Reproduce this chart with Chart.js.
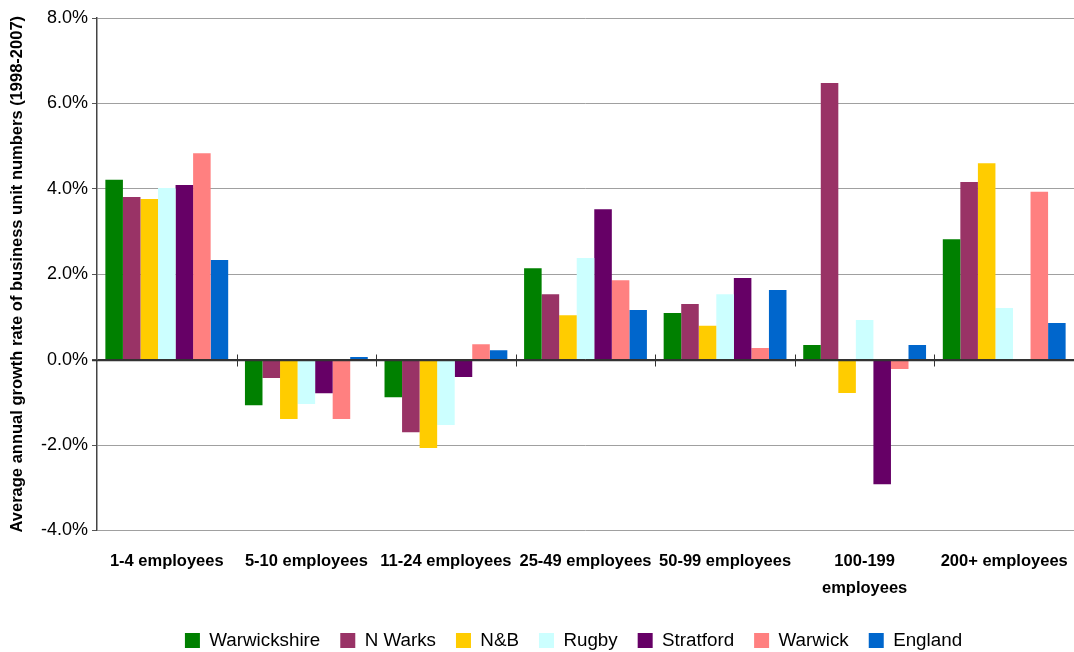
<!DOCTYPE html>
<html>
<head>
<meta charset="utf-8">
<script src="https://cdn.jsdelivr.net/npm/chart.js@4.4.1/dist/chart.umd.min.js"></script>
<style>
  html, body { margin: 0; padding: 0; background: #fff; }
  #wrap { width: 1074px; height: 652px; }
</style>
</head>
<body>
<div id="wrap"><canvas id="myChart"></canvas></div>
<script>
  // Tamaños de empresa (eje x)
  const categorias = ['1-4 employees', '5-10 employees', '11-24 employees', '25-49 employees',
    '50-99 employees', ['100-199', 'employees'], '200+ employees'];

  // Crecimiento anual medio (%) por zona
  const warwickshire = [4.21, -1.07, -0.88, 2.14, 1.09, 0.34, 2.82];
  const nWarks       = [3.81, -0.43, -1.70, 1.53, 1.30, 6.48, 4.16];
  const nyb          = [3.76, -1.39, -2.07, 1.04, 0.79, -0.78, 4.60];
  const rugby        = [4.02, -1.04, -1.53, 2.38, 1.53, 0.93, 1.21];
  const stratford    = [4.09, -0.79, -0.41, 3.52, 1.91, -2.92, null];
  const warwick      = [4.83, -1.39, 0.36, 1.86, 0.27, -0.22, 3.93];
  const england      = [2.33, 0.06, 0.22, 1.16, 1.63, 0.34, 0.86];

  const yTicks = [-4, -2, 0, 2, 4, 6, 8];

  const series = [
    { label: 'Warwickshire', data: warwickshire, color: '#008000' },
    { label: 'N Warks', data: nWarks, color: '#993366' },
    { label: 'N&B', data: nyb, color: '#FFCC00' },
    { label: 'Rugby', data: rugby, color: '#CCFFFF' },
    { label: 'Stratford', data: stratford, color: '#660066' },
    { label: 'Warwick', data: warwick, color: '#FF8080' },
    { label: 'England', data: england, color: '#0066CC' }
  ];

  // linea del cero y marcas entre categorias
  const lineaCero = {
    id: 'lineaCero',
    afterDatasetsDraw(chart) {
      const ctx = chart.ctx;
      const x = chart.scales.x, y = chart.scales.y;
      const y0 = Math.round(y.getPixelForValue(0)) + 0.5;
      ctx.save();
      ctx.strokeStyle = '#333';
      ctx.lineWidth = 1.5;
      ctx.beginPath();
      ctx.moveTo(chart.chartArea.left - 5, y0);
      ctx.lineTo(chart.chartArea.right, y0);
      ctx.stroke();
      ctx.lineWidth = 1;
      for (let i = 1; i < categorias.length; i++) {
        const xb = Math.round((x.getPixelForValue(i - 1) + x.getPixelForValue(i)) / 2) + 0.5;
        ctx.beginPath();
        ctx.moveTo(xb, y0 - 6);
        ctx.lineTo(xb, y0 + 6);
        ctx.stroke();
      }
      ctx.restore();
    }
  };

  // mover la leyenda un poco a la izquierda
  const moverLeyenda = {
    id: 'moverLeyenda',
    afterLayout(chart) {
      chart.legend.left -= 12;
      chart.legend.right -= 12;
    }
  };

  const ctx = document.getElementById('myChart');
  const myChart = new Chart(ctx, {
    type: 'bar',
    data: {
      labels: categorias,
      datasets: series.map(s => ({
        label: s.label,
        data: s.data,
        backgroundColor: s.color,
        borderWidth: 0,
        categoryPercentage: 0.88,
        barPercentage: 1
      }))
    },
    options: {
      responsive: true,
      maintainAspectRatio: false,
      animation: false,
      layout: { padding: { top: 18, right: 0, left: 0, bottom: -8 } },
      plugins: {
        tooltip: { enabled: false },
        legend: {
          position: 'bottom',
          fullSize: false,
          labels: {
            boxWidth: 15,
            boxHeight: 15,
            padding: 20,
            color: '#000',
            font: { family: 'Liberation Sans, Arial, sans-serif', size: 18.8 }
          }
        }
      },
      scales: {
        x: {
          grid: { display: false },
          border: { display: false },
          afterFit: s => { s.paddingRight = 0; s.paddingLeft = 0; },
          ticks: {
            color: '#000',
            padding: 10,
            maxRotation: 0,
            autoSkip: false,
            font: { family: 'Liberation Sans, Arial, sans-serif', size: 16.5, weight: 'bold', lineHeight: 1.6 }
          }
        },
        y: {
          min: -4,
          max: 8,
          afterBuildTicks: s => { s.ticks = yTicks.map(v => ({ value: v })); },
          afterFit: s => { s.width = 97; },
          grid: {
            color: c => c.tick && c.tick.value === 0 ? '#333' : '#a0a0a0',
            tickColor: '#555',
            tickLength: 5
          },
          border: { color: '#444', width: 1.5 },
          ticks: {
            color: '#000',
            padding: 4,
            callback: v => v.toFixed(1) + '%',
            font: { family: 'Liberation Sans, Arial, sans-serif', size: 18 }
          },
          title: {
            display: true,
            text: 'Average annual growth rate of business unit numbers (1998-2007)',
            color: '#000',
            padding: { top: 8, bottom: 0 },
            font: { family: 'Liberation Sans, Arial, sans-serif', size: 16.5, weight: 'bold' }
          }
        }
      }
    },
    plugins: [lineaCero, moverLeyenda]
  });
</script>
</body>
</html>
